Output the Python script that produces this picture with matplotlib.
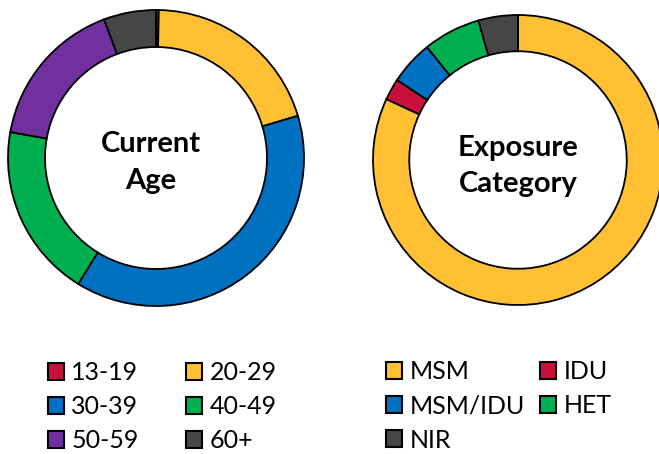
import matplotlib.pyplot as plt
from matplotlib.patches import Patch

plt.rcParams['font.family'] = ['Lato', 'DejaVu Sans']

age_labels = ["13-19", "20-29", "30-39", "40-49", "50-59", "60+"]
age_values = [0.3, 20.1, 38.4, 19.0, 16.5, 5.7]
age_colors = ["#C8103C", "#FFC133", "#0070C0", "#00B050", "#7030A0", "#464646"]

exp_labels = ["MSM", "IDU", "MSM/IDU", "HET", "NIR"]
exp_values = [81.9, 2.4, 4.9, 6.4, 4.4]
exp_colors = ["#FFC133", "#C8103C", "#0070C0", "#00B050", "#464646"]

W, H = 659, 454
fig = plt.figure(figsize=(W / 100, H / 100), dpi=100)


def donut(cx, cy, r, values, colors, title, dx, dy):
    ax = fig.add_axes([(cx - r) / W, (H - cy - r) / H, 2 * r / W, 2 * r / H])
    ax.pie(values, colors=colors, startangle=90, counterclock=False, radius=1,
           wedgeprops=dict(width=0.25, edgecolor="black", linewidth=1.3))
    ax.set_xlim(-1, 1)
    ax.set_ylim(-1, 1)
    ax.text(dx, dy, title, ha="center", va="center", fontsize=21,
            fontweight="bold", linespacing=1.5)
    return ax


donut(156, 158, 148, age_values, age_colors, "Current\nAge", -0.035, -0.03)
donut(518, 160, 145, exp_values, exp_colors, "Exposure\nCategory", 0, -0.04)


def legend(labels, colors, order, x, y, colspace):
    handles = [Patch(facecolor=colors[i], edgecolor="black", linewidth=1.5,
                     label=labels[i]) for i in order]
    fig.legend(handles=handles, loc="upper left", bbox_to_anchor=(x / W, 1 - y / H),
               ncol=2, frameon=False, fontsize=18, handlelength=0.65,
               handleheight=0.65, handletextpad=0.3, columnspacing=colspace,
               labelspacing=0.45, borderpad=0, borderaxespad=0)


legend(age_labels, age_colors, [0, 2, 4, 1, 3, 5], 47.5, 361, 1.9)
legend(exp_labels, exp_colors, [0, 2, 4, 1, 3], 386, 360, 0.6)

fig.savefig("out.png", dpi=100)
